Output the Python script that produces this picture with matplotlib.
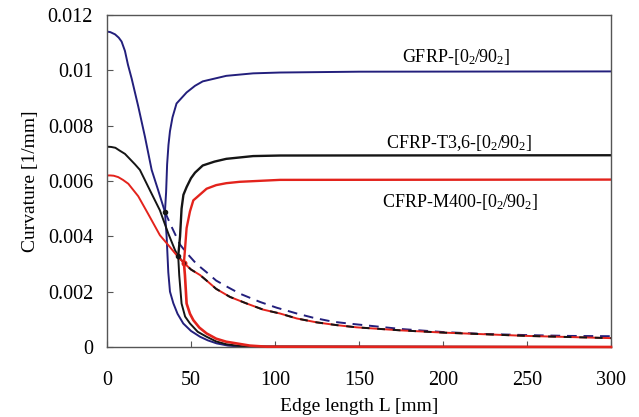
import matplotlib
matplotlib.use('Agg')
import matplotlib.pyplot as plt
from matplotlib.ticker import FuncFormatter

plt.rcParams['font.family'] = 'Liberation Serif'
plt.rcParams['mathtext.fontset'] = 'custom'
plt.rcParams['mathtext.rm'] = 'Liberation Serif'
plt.rcParams['mathtext.it'] = 'Liberation Serif:italic'

blue = '#231f7c'
red = '#e3231c'
black = '#151515'

# GFRP
gf_pre_L = [0, 2, 4.8, 7, 8.7, 10.7, 12.5, 14.7, 18.6, 22.6, 26.6, 30.5, 34.5]
gf_pre_k = [0.0114, 0.01138, 0.0113, 0.01118, 0.01104, 0.0107, 0.0102, 0.0097, 0.0087, 0.0076,
            0.0064, 0.00566, 0.00488]
gf_up_L = [34.5, 35.2, 35.8, 36.6, 37.5, 39, 41.4, 44.4, 47.4, 52.4, 57, 64, 71, 87, 103, 150, 300]
gf_up_k = [0.00488, 0.0056, 0.0066, 0.0073, 0.0078, 0.0083, 0.0088, 0.0090, 0.0092, 0.00944,
           0.0096, 0.0097, 0.0098, 0.00989, 0.00992, 0.00995, 0.00996]
gf_lo_L = [34.5, 35.5, 36.5, 37.5, 39.5, 42, 45.4, 50, 55.4, 60, 65.3, 72, 80, 300]
gf_lo_k = [0.00488, 0.0040, 0.0027, 0.0020, 0.00158, 0.0012, 0.00085, 0.00058, 0.00037,
           0.00024, 0.00013, 0.00005, 0.00001, 0]
gf_un_L = [34.5, 38.5, 43.5, 47.4, 53.3, 59.3, 65, 72, 79, 91, 101, 113, 122.6, 134.7, 146.6,
           175, 200, 225, 250, 275, 300]
gf_un_k = [0.00488, 0.00434, 0.0037, 0.0034, 0.0030, 0.0027, 0.0024, 0.00216, 0.00193, 0.00163,
           0.00142, 0.00121, 0.00106, 0.00091, 0.00083, 0.00065, 0.00054, 0.00047, 0.00043,
           0.0004, 0.00039]

# CFRP-T3,6
t3_pre_L = [0, 2.5, 5, 7.5, 10.7, 16.7, 19.6, 25.6, 31.5, 36.5, 40.5, 42.4]
t3_pre_k = [0.00724, 0.00723, 0.0072, 0.0071, 0.00698, 0.0066, 0.0064, 0.00566, 0.00494, 0.0041,
            0.0035, 0.00328]
t3_up_L = [42.4, 43.5, 44.4, 45.5, 47.4, 50, 52.4, 57, 64, 71, 87, 103, 300]
t3_up_k = [0.00328, 0.0040, 0.0050, 0.0055, 0.00578, 0.0061, 0.0063, 0.00656, 0.0067, 0.0068,
           0.0069, 0.00692, 0.00693]
t3_lo_L = [42.4, 43, 44.4, 46.5, 49.4, 54, 59.3, 65, 71, 81, 300]
t3_lo_k = [0.00328, 0.0026, 0.00157, 0.0011, 0.00085, 0.00055, 0.00037, 0.0002, 0.0001,
           0.00002, 0]

# CFRP-M400
m4_pre_L = [0, 2, 4, 6.7, 9.5, 12.7, 18.6, 24.6, 31.5, 37.5, 42.4, 45.8]
m4_pre_k = [0.0062, 0.0062, 0.00619, 0.00614, 0.00604, 0.0059, 0.00545, 0.0048, 0.00404,
            0.00361, 0.00325, 0.00304]
m4_up_L = [45.8, 46.4, 47.4, 49.4, 51.4, 53.3, 59.3, 65, 71, 79, 103, 300]
m4_up_k = [0.00304, 0.0035, 0.0043, 0.0049, 0.0053, 0.0054, 0.00572, 0.00585, 0.00592,
           0.00597, 0.00604, 0.00605]
m4_lo_L = [45.8, 46.4, 47.4, 49.4, 51.4, 55, 59.3, 65, 71, 85, 95, 300]
m4_lo_k = [0.00304, 0.0026, 0.00157, 0.0012, 0.00097, 0.0007, 0.00049, 0.0003, 0.00019,
           0.00005, 0.00001, 0]

# unstable branch shared by both CFRP laminates
cf_un_L = [42.4, 45.8, 50, 55.4, 59.3, 65, 73.2, 83.2, 93, 103, 113, 124.8, 136.7, 148.6,
           175, 200, 225, 250, 275, 300]
cf_un_k = [0.00328, 0.00304, 0.0028, 0.0026, 0.0024, 0.0021, 0.00181, 0.00157, 0.00135,
           0.00121, 0.00103, 0.00089, 0.00079, 0.00071, 0.0006, 0.00052, 0.00046, 0.0004,
           0.00036, 0.00032]

fig = plt.figure(figsize=(6.39, 4.17), dpi=100)
ax = fig.add_axes([0.1674, 0.1679, 0.7888, 0.7962])

lw = 1.4
ax.plot(gf_un_L, gf_un_k, color=blue, lw=lw, dashes=(5, 3.5))
ax.plot(cf_un_L[1:], cf_un_k[1:], color=red, lw=lw)
ax.plot(cf_un_L, cf_un_k, color=black, lw=lw, dashes=(4, 4))

ax.plot(gf_pre_L, gf_pre_k, color=blue, lw=lw)
ax.plot(gf_up_L, gf_up_k, color=blue, lw=lw)
ax.plot(gf_lo_L, gf_lo_k, color=blue, lw=lw)
ax.plot(t3_pre_L, t3_pre_k, color=black, lw=lw)
ax.plot(t3_up_L, t3_up_k, color=black, lw=lw + 0.3)
ax.plot(t3_lo_L, t3_lo_k, color=black, lw=lw)
ax.plot(m4_pre_L, m4_pre_k, color=red, lw=lw)
ax.plot(m4_up_L, m4_up_k, color=red, lw=lw + 0.3)
ax.plot(m4_lo_L, m4_lo_k, color=red, lw=lw + 0.5, zorder=3, clip_on=False)

ax.plot(gf_pre_L[-1], gf_pre_k[-1], 'o', ms=3, color=black)
ax.plot(t3_pre_L[-1], t3_pre_k[-1], 'o', ms=3, color=black)
ax.plot(m4_pre_L[-1], m4_pre_k[-1], 'o', ms=3.5, mfc=black, mec=red, mew=0.8)

ax.text(207.4, 0.01049, r'GFRP-[0$_2$/90$_2$]', fontsize=13, ha='center', va='center')
ax.text(209.8, 0.00739, r'CFRP-T3,6-[0$_2$/90$_2$]', fontsize=13, ha='center', va='center')
ax.text(210.1, 0.00523, r'CFRP-M400-[0$_2$/90$_2$]', fontsize=13, ha='center', va='center')

ax.set_xlim(0, 300)
ax.set_ylim(0, 0.012)
ax.set_xticks([0, 50, 100, 150, 200, 250, 300])
ax.set_yticks([0, 0.002, 0.004, 0.006, 0.008, 0.01, 0.012])
ax.yaxis.set_major_formatter(FuncFormatter(lambda v, p: '%g' % round(v, 4)))
ax.tick_params(direction='in', length=4, labelsize=14.5, color='#555555')
ax.tick_params(axis='x', pad=17)
ax.tick_params(axis='y', pad=10)
for s in ax.spines.values():
    s.set_color('#555555')
    s.set_linewidth(1.0)

ax.set_xlabel('Edge length L [mm]', fontsize=14)
ax.set_ylabel('Curvature [1/mm]', fontsize=14)
ax.xaxis.labelpad = 6
ax.yaxis.labelpad = 6

fig.savefig('out.png', dpi=100)
